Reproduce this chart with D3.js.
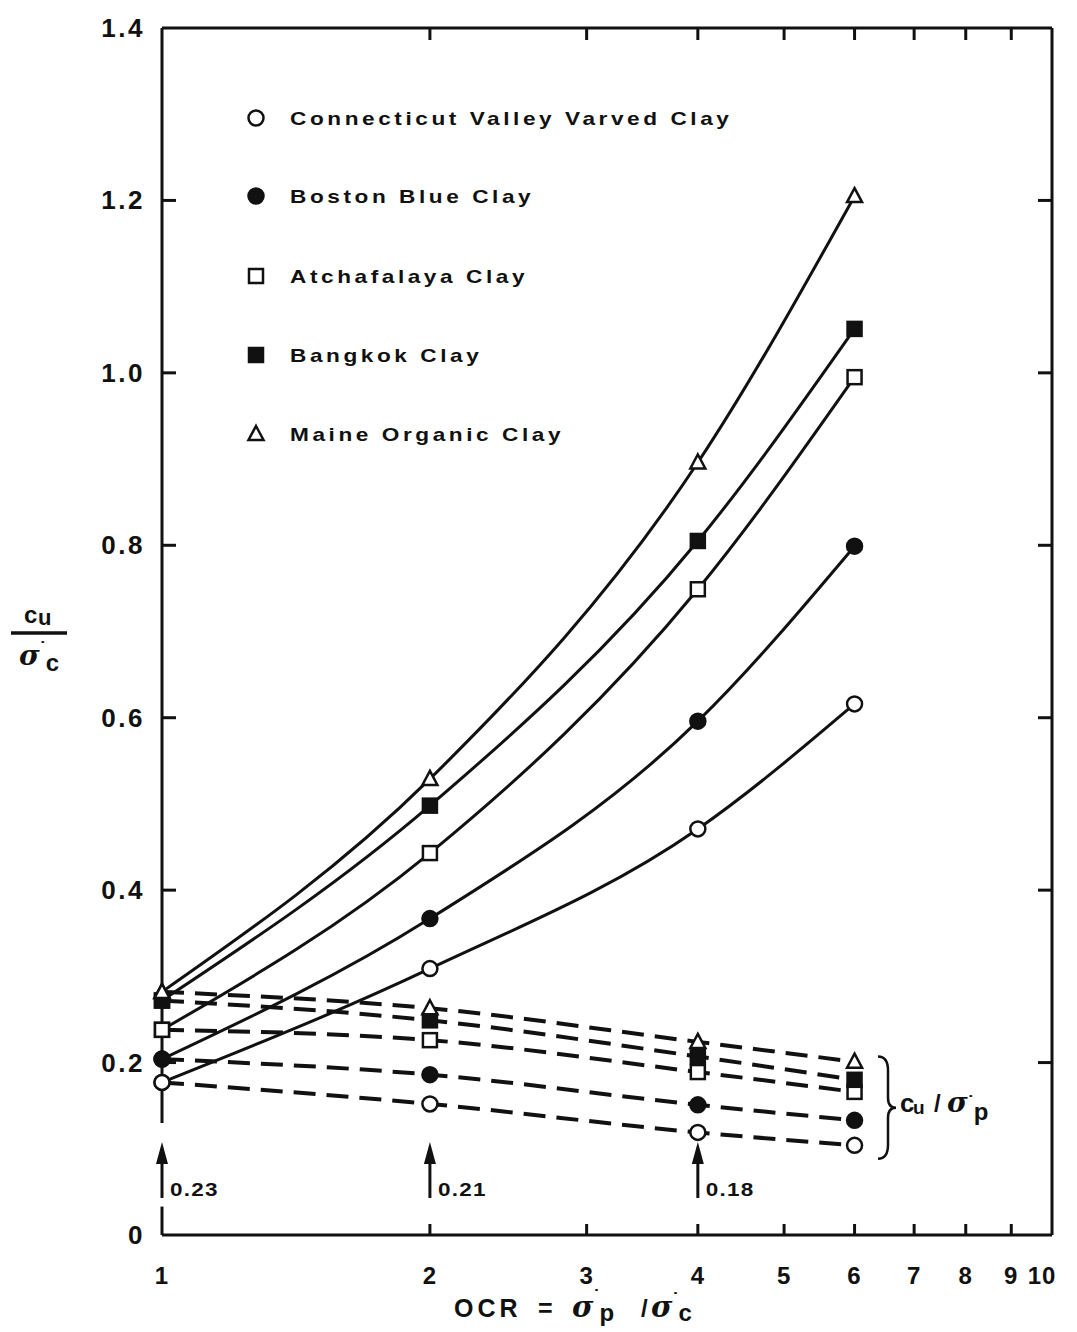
<!DOCTYPE html>
<html><head><meta charset="utf-8">
<script src="https://cdn.jsdelivr.net/npm/d3@7"></script>
<style>body{margin:0;background:#fff}svg{display:block}text{font-family:"Liberation Sans",Arial,sans-serif;font-weight:bold;fill:#111}</style>
</head><body><svg id="c" width="1077" height="1332"></svg>
<script>
const ocr = [1, 2, 4, 6];
const soils = ["Connecticut Valley Varved Clay","Boston Blue Clay","Atchafalaya Clay","Bangkok Clay","Maine Organic Clay"];
const symbols = ["openCircle","filledCircle","openSquare","filledSquare","openTriangle"];
// cu / sigma'c (solid curves)
const cuSc = [
  [0.177, 0.309, 0.471, 0.616],
  [0.204, 0.367, 0.596, 0.799],
  [0.238, 0.443, 0.749, 0.995],
  [0.272, 0.498, 0.805, 1.051],
  [0.282, 0.529, 0.896, 1.205]
];
// cu / sigma'p (dashed lines)
const cuSp = [
  [0.177, 0.152, 0.119, 0.104],
  [0.204, 0.186, 0.151, 0.133],
  [0.238, 0.226, 0.189, 0.166],
  [0.272, 0.249, 0.207, 0.180],
  [0.282, 0.263, 0.224, 0.201]
];
const xTicks = [1,2,3,4,5,6,7,8,9,10];
const yTicks = [0,0.2,0.4,0.6,0.8,1.0,1.2,1.4];
const yTickLabels = ["0","0.2","0.4","0.6","0.8","1.0","1.2","1.4"];
const arrowX = [1, 2, 4];
const arrowLabels = ["0.23","0.21","0.18"];

const svg = d3.select("#c");
const x = d3.scaleLog().domain([1,10]).range([162,1052]);
const y = d3.scaleLinear().domain([0,1.4]).range([1235,28]);
const ink = "#111";
const serif = "DejaVu Serif";

// frame
const L = x(1), R = x(10), T = y(1.4), B = y(0);
const frame = svg.append("g").attr("stroke", ink).attr("stroke-width", 3).attr("fill","none");
frame.append("line").attr("x1",L).attr("x2",R).attr("y1",T).attr("y2",T);
frame.append("line").attr("x1",L).attr("x2",R).attr("y1",B).attr("y2",B);
frame.append("line").attr("x1",R).attr("x2",R).attr("y1",T).attr("y2",B);
frame.append("line").attr("x1",L).attr("x2",L).attr("y1",T).attr("y2",y(0.13));
frame.append("line").attr("x1",L).attr("x2",L).attr("y1",y(0.033)).attr("y2",B);

// ticks inward
const tk = svg.append("g").attr("stroke", ink).attr("stroke-width", 3);
xTicks.filter(d => d > 1 && d < 10).forEach(d => {
  tk.append("line").attr("x1",x(d)).attr("x2",x(d)).attr("y1",B).attr("y2",B-11);
  tk.append("line").attr("x1",x(d)).attr("x2",x(d)).attr("y1",T).attr("y2",T+12);
});
yTicks.filter(d => d > 0 && d < 1.4).forEach(d => {
  tk.append("line").attr("x1",L).attr("x2",L+14).attr("y1",y(d)).attr("y2",y(d));
  tk.append("line").attr("x1",R).attr("x2",R-14).attr("y1",y(d)).attr("y2",y(d));
});

// tick labels
svg.append("g").selectAll("text").data(xTicks).join("text")
  .attr("x", d => d === 10 ? x(d) - 10 : x(d)).attr("y", 1284)
  .attr("text-anchor","middle").attr("font-size", 24).attr("letter-spacing", 1).text(d => d);
svg.append("g").selectAll("text").data(yTicks).join("text")
  .attr("x", 145).attr("y", d => y(d) + 9)
  .attr("text-anchor","end").attr("font-size", 26).attr("letter-spacing", 2.5).text((d,i) => yTickLabels[i]);

// curves
const line = d3.line().x((d,i) => x(ocr[i])).y(d => y(d)).curve(d3.curveMonotoneX);
const gLines = svg.append("g").attr("fill","none").attr("stroke", ink);
cuSp.forEach(s => gLines.append("path").attr("d", line(s)).attr("stroke-width", 4).attr("stroke-dasharray","22,11"));
cuSc.forEach(s => gLines.append("path").attr("d", line(s)).attr("stroke-width", 3));

// markers
function marker(g, type, cx, cy) {
  const filled = type.startsWith("filled");
  const fill = filled ? ink : "#fff";
  if (type.endsWith("Circle")) {
    g.append("circle").attr("cx",cx).attr("cy",cy).attr("r",7.5).attr("fill",fill).attr("stroke",ink).attr("stroke-width",2.5);
  } else if (type.endsWith("Square")) {
    g.append("rect").attr("x",cx-7).attr("y",cy-7).attr("width",14).attr("height",14).attr("fill",fill).attr("stroke",ink).attr("stroke-width",2.5);
  } else {
    g.append("path").attr("d",`M${cx},${cy-8}L${cx+7.5},${cy+6}L${cx-7.5},${cy+6}Z`).attr("fill","#fff").attr("stroke",ink).attr("stroke-width",2.5);
  }
}
const gm = svg.append("g");
[cuSp, cuSc].forEach(set => set.forEach((s, k) => s.forEach((v, i) => marker(gm, symbols[k], x(ocr[i]), y(v)))));

// legend
const legY = [118, 196, 276, 355, 434];
soils.forEach((name, k) => {
  marker(gm, symbols[k], 256, legY[k]);
  svg.append("text").attr("transform", `translate(290,${legY[k] + 7}) scale(1.19,1)`)
    .attr("font-size", 19).attr("letter-spacing", 3).text(name);
});

// arrows
const ga = svg.append("g");
arrowX.forEach((d, i) => {
  const ax = x(d);
  ga.append("line").attr("x1",ax).attr("x2",ax).attr("y1",1198).attr("y2",1158).attr("stroke",ink).attr("stroke-width",3);
  ga.append("path").attr("d",`M${ax},${1142}L${ax+6},${1164}L${ax-6},${1164}Z`).attr("fill",ink);
  ga.append("text").attr("transform", `translate(${ax + 8},1196) scale(1.25,1)`).attr("font-size", 18).attr("letter-spacing",1).text(arrowLabels[i]);
});

// brace
const bx = 878, by0 = y(0.2)-6, by1 = y(0.1)+10, bm = (by0+by1)/2;
svg.append("path").attr("fill","none").attr("stroke",ink).attr("stroke-width",2.5)
  .attr("d",`M${bx},${by0} Q${bx+10},${by0} ${bx+10},${by0+14} L${bx+10},${bm-10} Q${bx+10},${bm} ${bx+18},${bm} Q${bx+10},${bm} ${bx+10},${bm+10} L${bx+10},${by1-14} Q${bx+10},${by1} ${bx},${by1}`);
const bt = svg.append("text").attr("y", 1112).attr("font-size", 26);
bt.append("tspan").attr("x", 900).text("c");
bt.append("tspan").attr("x", 913).attr("dy", 2).attr("font-size", 19).text("u");
bt.append("tspan").attr("x", 934).attr("dy", -2).attr("font-size", 24).text("/");
bt.append("tspan").attr("x", 947).attr("font-size", 28).attr("font-style","italic").attr("font-family",serif).text("σ");
bt.append("tspan").attr("dy", -3).attr("font-size", 18).text("˙");
bt.append("tspan").attr("dy", 11).attr("font-size", 24).text("p");

// y label
svg.append("line").attr("x1",11).attr("x2",67).attr("y1",633).attr("y2",633).attr("stroke",ink).attr("stroke-width",3.5);
const yl1 = svg.append("text").attr("y",623).attr("font-size",24);
yl1.append("tspan").attr("x",24).text("c");
yl1.append("tspan").attr("x",38).attr("dy",2).attr("font-size",22).text("u");
const yl2 = svg.append("text").attr("y",665).attr("font-size",28);
yl2.append("tspan").attr("x",19).attr("font-style","italic").attr("font-family",serif).text("σ");
yl2.append("tspan").attr("dy",-10).attr("font-size",18).text("˙");
yl2.append("tspan").attr("dy",16).attr("font-size",24).text("c");

// x label
const xl = svg.append("text").attr("y",1317).attr("font-size",25);
xl.append("tspan").attr("x",454).attr("letter-spacing",4).text("OCR");
xl.append("tspan").attr("x",538).text("=");
xl.append("tspan").attr("x",572).attr("font-size",29).attr("font-style","italic").attr("font-family",serif).text("σ");
xl.append("tspan").attr("dy",-14).attr("font-size",18).text("˙");
xl.append("tspan").attr("dy",18).attr("font-size",24).text("p");
xl.append("tspan").attr("x",641).attr("dy",-4).attr("font-size",24).text("/");
xl.append("tspan").attr("x",651).attr("font-size",29).attr("font-style","italic").attr("font-family",serif).text("σ");
xl.append("tspan").attr("dy",-11).attr("font-size",18).text("˙");
xl.append("tspan").attr("dy",15).attr("font-size",24).text("c");
</script></body></html>
